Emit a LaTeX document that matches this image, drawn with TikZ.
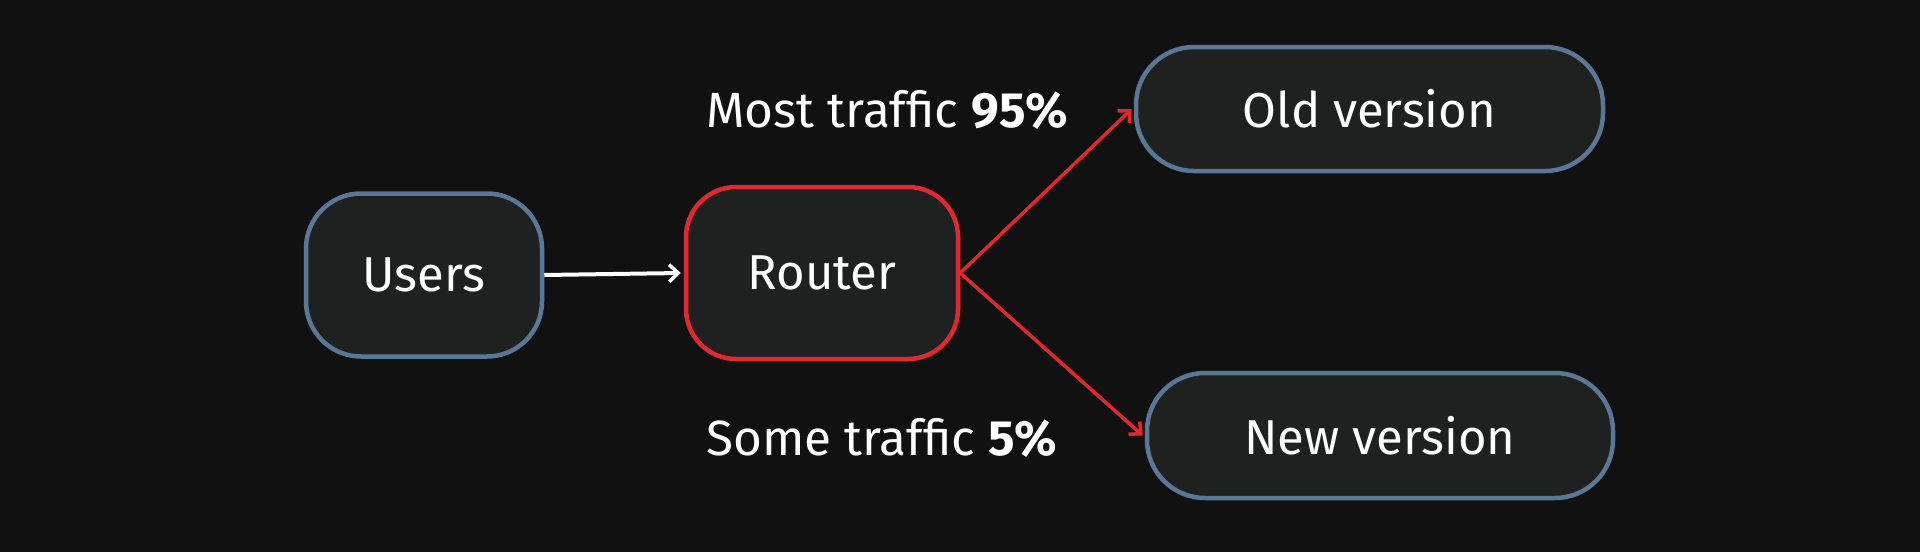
\documentclass[tikz,border=0pt]{standalone}
\usepackage{fontspec}
\setmainfont{Fira Sans}
\usetikzlibrary{arrows.meta}
\definecolor{bgc}{HTML}{111111}
\definecolor{boxfill}{HTML}{1F2121}
\definecolor{blueedge}{HTML}{5A7896}
\definecolor{rededge}{HTML}{E0282E}
\tikzset{
  box/.style={draw=blueedge, fill=boxfill, line width=4.5pt, rounded corners=#1, inner sep=0pt,
    text=white, font=\fontsize{49}{58}\selectfont},
  box/.default=55pt,
  lbl/.style={text=white, anchor=west, inner sep=0pt, font=\fontsize{49.5}{58}\selectfont},
  whitearrow/.style={draw=white, line width=4pt, -{Straight Barb[length=9pt,width=17pt,line width=3.5pt]}},
  redarrow/.style={draw=rededge, line width=3.5pt, -{Straight Barb[length=9pt,width=17pt,line width=3.5pt]}}
}
\begin{document}
\begin{tikzpicture}[x=1pt,y=-1pt]
\fill[bgc] (0,0) rectangle (1920,552);
\useasboundingbox (0,0) rectangle (1920,552);
\node[box=55pt, minimum width=236pt, minimum height=163pt] (users) at (424,275) {Users};
\node[box=50pt, draw=rededge, minimum width=272pt, minimum height=172pt] (router) at (822,273) {Router};
\node[box=58pt, minimum width=467pt, minimum height=124pt] (old) at (1369.5,109) {Old version};
\node[box=58pt, minimum width=466pt, minimum height=125pt] (new) at (1380,435.5) {New version};
\node[lbl] (most) at (706,110) {Most traffic \textbf{95\%}};
\node[lbl] (some) at (706,438) {Some traffic \textbf{5\%}};
\draw[whitearrow] (users.east) -- ([xshift=-3pt]router.west);
\draw[redarrow] (router.east) -- ([xshift=-2pt]old.west);
\draw[redarrow] (router.east) -- ([xshift=-2pt]new.west);
\end{tikzpicture}
\end{document}
